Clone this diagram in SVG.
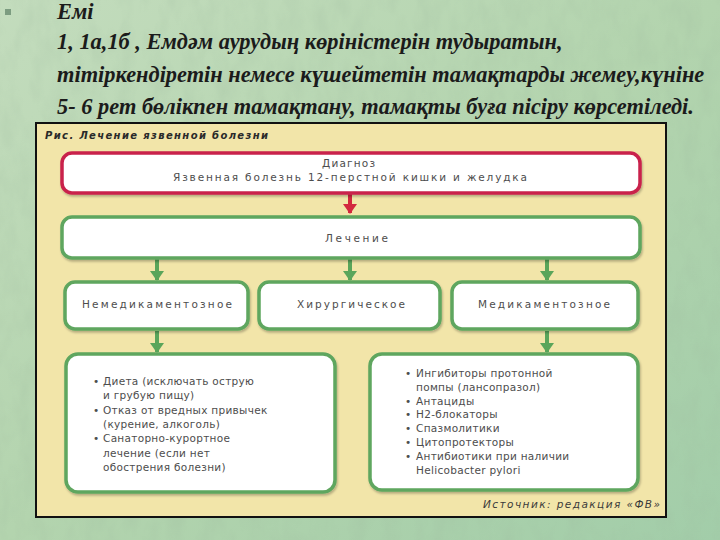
<svg xmlns="http://www.w3.org/2000/svg" width="720" height="540" viewBox="0 0 720 540">
<defs>
  <linearGradient id="bg" x1="0" y1="0" x2="1" y2="1">
    <stop offset="0" stop-color="#c3dcbd"/>
    <stop offset="0.5" stop-color="#b3d4ae"/>
    <stop offset="1" stop-color="#a2cda9"/>
  </linearGradient>
  <filter id="tex" x="0" y="0" width="100%" height="100%">
    <feTurbulence type="fractalNoise" baseFrequency="0.06 0.03" numOctaves="3" seed="4"/>
    <feColorMatrix type="matrix" values="0 0 0 0 0.35  0 0 0 0 0.5  0 0 0 0 0.35  0 0 0 1.2 -0.45"/>
  </filter>
  <filter id="sh" x="-5%" y="-10%" width="110%" height="130%">
    <feDropShadow dx="1" dy="2" stdDeviation="1.2" flood-color="#000" flood-opacity="0.25"/>
  </filter>
  <marker id="ag" markerUnits="userSpaceOnUse" markerWidth="14" markerHeight="10" refX="7" refY="9" viewBox="0 0 14 10">
    <path d="M0,0 L14,0 L7,10 z" fill="#5aa55a"/>
  </marker>
  <marker id="ar" markerUnits="userSpaceOnUse" markerWidth="14" markerHeight="10" refX="7" refY="9" viewBox="0 0 14 10">
    <path d="M0,0 L14,0 L7,10 z" fill="#d3283f"/>
  </marker>
</defs>
<style>
  .title{font-family:"Liberation Serif","Times New Roman",serif;font-weight:bold;font-style:italic;font-size:22.4px;fill:#1b1b1b}
  .lbl{font-family:"DejaVu Sans","Liberation Sans",Arial,sans-serif;font-size:10.5px;fill:#4d4d4d}
  .lst{font-family:"DejaVu Sans","Liberation Sans",Arial,sans-serif;font-size:10.5px;fill:#4d4d4d;letter-spacing:0.3px}
  .cap{font-family:"DejaVu Sans","Liberation Sans",Arial,sans-serif;font-size:10px;font-weight:bold;font-style:italic;fill:#2a2a2a}
  .src{font-family:"DejaVu Sans","Liberation Sans",Arial,sans-serif;font-size:10.5px;font-style:italic;fill:#3a3a3a}
  .red{fill:#ffffff;stroke:#c9234c;stroke-width:3.5}
  .grn{fill:#ffffff;stroke:#5ea65e;stroke-width:3.5}
  .cg{stroke:#5aa55a;stroke-width:4;fill:none}
  .cr{stroke:#d3283f;stroke-width:4;fill:none}
</style>

<!-- background -->
<rect x="0" y="0" width="720" height="540" fill="url(#bg)"/>
<rect x="0" y="0" width="720" height="540" filter="url(#tex)" opacity="0.35"/>

<!-- heading text -->
<g id="heading">
  <rect x="5" y="9" width="6" height="6" fill="#7c9c80"/>
  <text class="title" x="57" y="19">Емі</text>
  <text class="title" x="57" y="49">1, 1а,1б ,  Емдәм аурудың көріністерін тудыратын,</text>
  <text class="title" x="57" y="82">тітіркендіретін немесе күшейтетін тамақтарды жемеу,күніне</text>
  <text class="title" x="57" y="114">5- 6 рет бөлікпен тамақтану, тамақты буға пісіру көрсетіледі.</text>
</g>

<!-- frame -->
<g id="frame">
  <rect x="36" y="123" width="630" height="394" fill="#f2e5a9" stroke="#111" stroke-width="2"/>
  <text class="cap" x="45" y="139" textLength="223" lengthAdjust="spacing">Рис. Лечение язвенной болезни</text>
  <text class="src" x="483" y="508" textLength="177" lengthAdjust="spacing">Источник: редакция «ФВ»</text>
</g>

<!-- connectors -->
<g id="connectors">
  <line class="cr" x1="350" y1="194" x2="350" y2="213" marker-end="url(#ar)"/>
  <line class="cg" x1="157" y1="259" x2="157" y2="280" marker-end="url(#ag)"/>
  <line class="cg" x1="350" y1="259" x2="350" y2="280" marker-end="url(#ag)"/>
  <line class="cg" x1="547" y1="259" x2="547" y2="280" marker-end="url(#ag)"/>
  <line class="cg" x1="157" y1="331" x2="157" y2="352" marker-end="url(#ag)"/>
  <line class="cg" x1="547" y1="331" x2="547" y2="352" marker-end="url(#ag)"/>
</g>

<g id="diagnosis">
  <rect class="red" x="62" y="153" width="578" height="40" rx="10" filter="url(#sh)"/>
  <text class="lbl" x="322" y="167" textLength="53" lengthAdjust="spacing">Диагноз</text>
  <text class="lbl" x="173" y="181" textLength="354" lengthAdjust="spacing">Язвенная болезнь 12-перстной кишки и желудка</text>
</g>

<g id="treatment">
  <rect class="grn" x="62" y="217" width="578" height="41" rx="10" filter="url(#sh)"/>
  <text class="lbl" x="325" y="242" textLength="63" lengthAdjust="spacing">Лечение</text>
</g>

<g id="nondrug">
  <rect class="grn" x="65" y="282" width="183" height="47" rx="10" filter="url(#sh)"/>
  <text class="lbl" x="82" y="308" textLength="150" lengthAdjust="spacing">Немедикаментозное</text>
</g>

<g id="surgical">
  <rect class="grn" x="259" y="282" width="181" height="47" rx="10" filter="url(#sh)"/>
  <text class="lbl" x="297" y="308" textLength="108" lengthAdjust="spacing">Хирургическое</text>
</g>

<g id="drug">
  <rect class="grn" x="452" y="282" width="186" height="47" rx="10" filter="url(#sh)"/>
  <text class="lbl" x="478" y="308" textLength="132" lengthAdjust="spacing">Медикаментозное</text>
</g>

<g id="nondrug-list">
  <rect class="grn" x="66" y="354" width="269" height="138" rx="12" filter="url(#sh)"/>
  <text class="lst" x="93" y="385">•</text>
  <text class="lst" x="103" y="385">Диета (исключать острую</text>
  <text class="lst" x="103" y="399">и грубую пищу)</text>
  <text class="lst" x="93" y="414">•</text>
  <text class="lst" x="103" y="414">Отказ от вредных привычек</text>
  <text class="lst" x="103" y="428">(курение, алкоголь)</text>
  <text class="lst" x="93" y="442">•</text>
  <text class="lst" x="103" y="442">Санаторно-курортное</text>
  <text class="lst" x="103" y="457">лечение (если нет</text>
  <text class="lst" x="103" y="471">обострения болезни)</text>
</g>

<g id="drug-list">
  <rect class="grn" x="370" y="354" width="268" height="136" rx="12" filter="url(#sh)"/>
  <text class="lst" x="405" y="377">•</text>
  <text class="lst" x="416" y="377">Ингибиторы протонной</text>
  <text class="lst" x="416" y="391">помпы (лансопразол)</text>
  <text class="lst" x="405" y="405">•</text>
  <text class="lst" x="416" y="405">Антациды</text>
  <text class="lst" x="405" y="418">•</text>
  <text class="lst" x="416" y="418">H2-блокаторы</text>
  <text class="lst" x="405" y="432">•</text>
  <text class="lst" x="416" y="432">Спазмолитики</text>
  <text class="lst" x="405" y="446">•</text>
  <text class="lst" x="416" y="446">Цитопротекторы</text>
  <text class="lst" x="405" y="460">•</text>
  <text class="lst" x="416" y="460">Антибиотики при наличии</text>
  <text class="lst" x="416" y="474">Helicobacter pylori</text>
</g>
</svg>
